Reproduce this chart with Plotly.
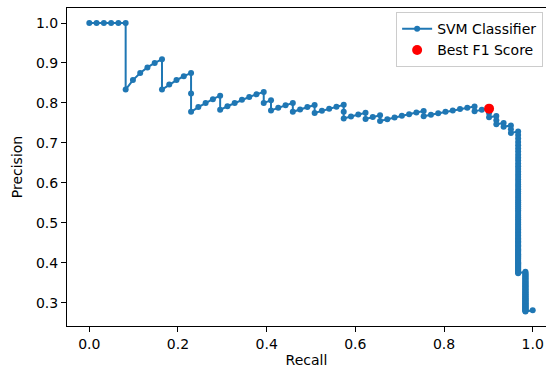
import plotly.graph_objects as go

# Main part of the precision-recall curve (increasing recall)
recall = [0.0, 0.0164, 0.0328, 0.0492, 0.0656, 0.0820,
          0.0820, 0.0984, 0.1148, 0.1311, 0.1475, 0.1639,
          0.1639, 0.1803, 0.1967, 0.2131, 0.2295,
          0.2295, 0.2295, 0.2459, 0.2623, 0.2787, 0.2951,
          0.2951, 0.3115, 0.3279, 0.3443, 0.3607, 0.3770, 0.3934,
          0.3934, 0.4098, 0.4098, 0.4262, 0.4426, 0.4590,
          0.4590, 0.4754, 0.4918, 0.5082,
          0.5082, 0.5246, 0.5410, 0.5574, 0.5738,
          0.5738, 0.5738, 0.5902, 0.6066, 0.6230,
          0.6230, 0.6393, 0.6557,
          0.6557, 0.6721, 0.6885, 0.7049, 0.7213, 0.7377, 0.7541,
          0.7541, 0.7705, 0.7869, 0.8033, 0.8197, 0.8361, 0.8525, 0.8689,
          0.8689, 0.8852, 0.9016,
          0.9016, 0.9016, 0.9180, 0.9180, 0.9180, 0.9344, 0.9344,
          0.9508, 0.9508, 0.9508, 0.9672, 0.9672]
precision = [1.0, 1.0, 1.0, 1.0, 1.0, 1.0,
             0.8333, 0.8571, 0.875, 0.8889, 0.9, 0.9091,
             0.8333, 0.8462, 0.8571, 0.8667, 0.875,
             0.8235, 0.7778, 0.7895, 0.8, 0.8095, 0.8182,
             0.7826, 0.7917, 0.8, 0.8077, 0.8148, 0.8214, 0.8276,
             0.8, 0.8065, 0.7813, 0.7879, 0.7941, 0.8,
             0.7778, 0.7838, 0.7895, 0.7949,
             0.775, 0.7805, 0.7857, 0.7907, 0.7955,
             0.7778, 0.7609, 0.766, 0.7708, 0.7755,
             0.76, 0.7647, 0.7692,
             0.7547, 0.7593, 0.7636, 0.7679, 0.7719, 0.7759, 0.7797,
             0.7667, 0.7705, 0.7742, 0.7778, 0.7813, 0.7846, 0.7879, 0.791,
             0.7794, 0.7826, 0.7857,
             0.7746, 0.7639, 0.7671, 0.7568, 0.7467, 0.75, 0.7403,
             0.7436, 0.7342, 0.725, 0.7284, 0.7195]

# Steep drop at recall ~0.967
col1_recall = 0.9672
col1_precision = [0.7108, 0.7024, 0.6941, 0.6860, 0.6782, 0.6705, 0.6629, 0.6556,
                  0.6484, 0.6413, 0.6344, 0.6277, 0.6211, 0.6146, 0.6082, 0.6020,
                  0.5960, 0.5900, 0.5842, 0.5784, 0.5728, 0.5673, 0.5619, 0.5566,
                  0.5514, 0.5463, 0.5413, 0.5364, 0.5315, 0.5268, 0.5221, 0.5175,
                  0.5130, 0.5086, 0.5043, 0.5000, 0.4958, 0.4917, 0.4876, 0.4836,
                  0.4797, 0.4758, 0.4720, 0.4683, 0.4646, 0.4609, 0.4574, 0.4538,
                  0.4504, 0.4470, 0.4436, 0.4403, 0.4370, 0.4338, 0.4307, 0.4275,
                  0.4245, 0.4214, 0.4184, 0.4155, 0.4126, 0.4097, 0.4069, 0.4041,
                  0.4014, 0.3986, 0.3960, 0.3933, 0.3907, 0.3882, 0.3856, 0.3831,
                  0.3806, 0.3782, 0.3758, 0.3734]

# Second drop at recall ~0.984
col2_recall = 0.9836
col2_precision = [0.3774, 0.3750, 0.3727, 0.3704, 0.3681, 0.3659, 0.3636, 0.3614,
                  0.3593, 0.3571, 0.3550, 0.3529, 0.3509, 0.3488, 0.3468, 0.3448,
                  0.3429, 0.3409, 0.3390, 0.3371, 0.3352, 0.3333, 0.3315, 0.3297,
                  0.3279, 0.3261, 0.3243, 0.3226, 0.3209, 0.3191, 0.3175, 0.3158,
                  0.3141, 0.3125, 0.3109, 0.3093, 0.3077, 0.3061, 0.3046, 0.3030,
                  0.3015, 0.3000, 0.2985, 0.2970, 0.2956, 0.2941, 0.2927, 0.2913,
                  0.2899, 0.2885, 0.2871, 0.2857, 0.2844, 0.2830, 0.2817, 0.2804,
                  0.2791, 0.2778]

end_recall = [1.0]
end_precision = [0.2811]

best_recall = [0.9016]
best_precision = [0.7857]

x_ticks = [0.0, 0.2, 0.4, 0.6, 0.8, 1.0]
x_ticklabels = ["0.0", "0.2", "0.4", "0.6", "0.8", "1.0"]
y_ticks = [0.3, 0.4, 0.5, 0.6, 0.7, 0.8, 0.9, 1.0]
y_ticklabels = ["0.3", "0.4", "0.5", "0.6", "0.7", "0.8", "0.9", "1.0"]

all_recall = (recall + [col1_recall] * len(col1_precision)
              + [col2_recall] * len(col2_precision) + end_recall)
all_precision = precision + col1_precision + col2_precision + end_precision

FONT = "DejaVu Sans"
FS = 14

fig = go.Figure()
fig.add_trace(go.Scatter(
    x=all_recall, y=all_precision, mode="lines+markers",
    name="SVM Classifier",
    line=dict(color="#1f77b4", width=2),
    marker=dict(color="#1f77b4", size=6),
))
fig.add_trace(go.Scatter(
    x=best_recall, y=best_precision, mode="markers",
    name="Best F1 Score",
    marker=dict(color="red", size=10),
))

fig.update_layout(
    width=546, height=373,
    margin=dict(l=67, r=0, t=8, b=47),
    paper_bgcolor="white", plot_bgcolor="white",
    font=dict(family=FONT, size=FS, color="black"),
    showlegend=True,
    legend=dict(
        x=0.994, y=0.987, xanchor="right", yanchor="top",
        bgcolor="rgba(255,255,255,0.8)", bordercolor="#cccccc", borderwidth=1,
        font=dict(family=FONT, size=FS, color="black"),
        tracegroupgap=2,
    ),
)
fig.update_xaxes(
    range=[-0.0503, 1.030], tickmode="array", tickvals=x_ticks, ticktext=x_ticklabels,
    showgrid=False, zeroline=False, showline=True, linecolor="black", linewidth=1,
    mirror=True, ticks="outside", ticklen=5, tickcolor="black",
    tickfont=dict(family=FONT, size=FS, color="black"),
    title=dict(text="Recall", standoff=4, font=dict(family=FONT, size=FS, color="black")),
)
fig.update_yaxes(
    range=[0.2416, 1.0376], tickmode="array", tickvals=y_ticks, ticktext=y_ticklabels,
    showgrid=False, zeroline=False, showline=True, linecolor="black", linewidth=1,
    ticks="outside", ticklen=5, tickcolor="black",
    tickfont=dict(family=FONT, size=FS, color="black"),
    title=dict(text="Precision", standoff=10, font=dict(family=FONT, size=FS, color="black")),
)

fig.write_html("out.html")
